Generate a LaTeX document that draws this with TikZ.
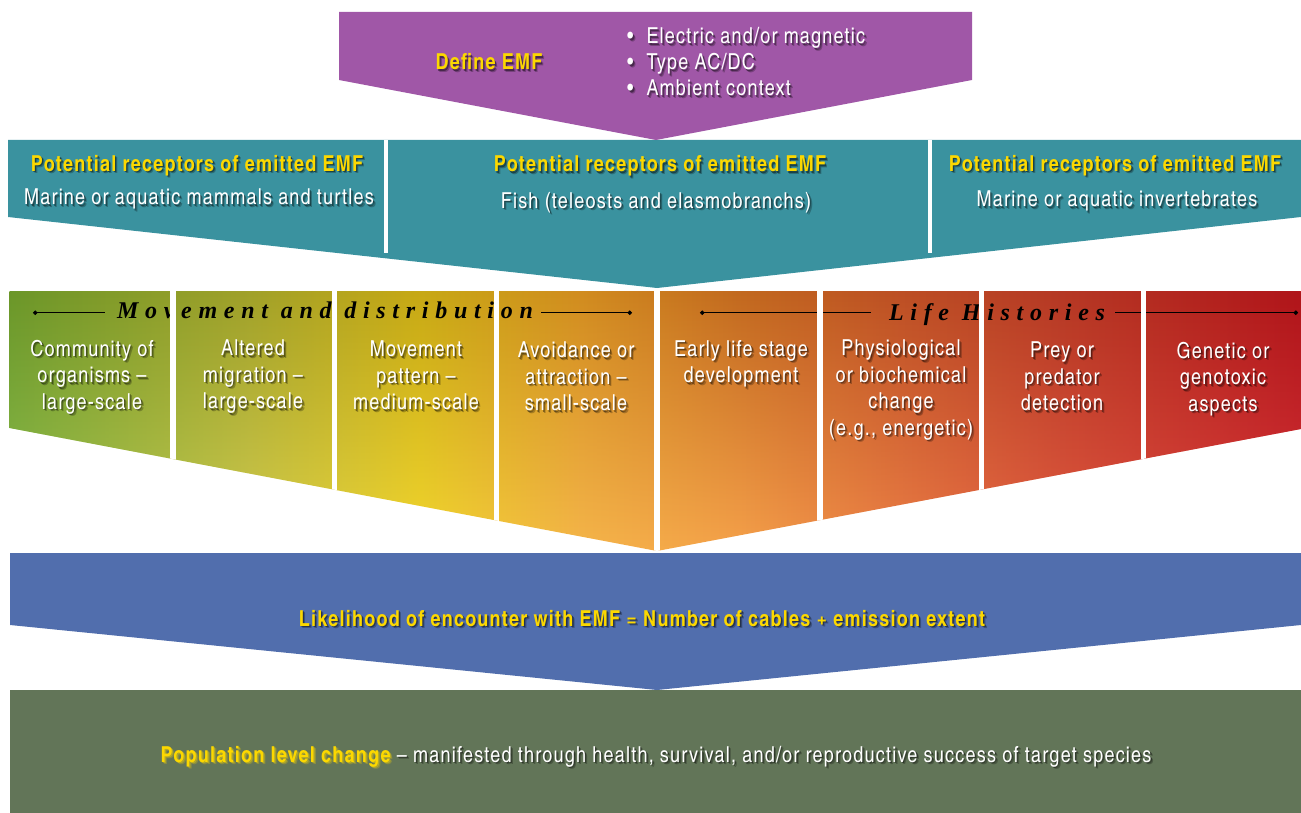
\documentclass[tikz,border=0pt]{standalone}
\usepackage{fontspec}
\setmainfont{texgyreheroscn}[Extension=.otf,UprightFont=*-regular,BoldFont=*-bold,ItalicFont=*-italic,BoldItalicFont=*-bolditalic,LetterSpace=5.5]
\newfontfamily\headfont{Liberation Serif}[LetterSpace=28]
\usetikzlibrary{positioning,calc,fadings,arrows.meta}

\definecolor{emfpurple}{RGB}{160,87,167}
\definecolor{emfteal}{RGB}{58,146,159}
\definecolor{emfblue}{RGB}{81,110,173}
\definecolor{emfgreen}{RGB}{98,117,88}
\definecolor{emfyellow}{RGB}{252,216,0}

% colours of the effect band, lower and upper edge
\pgfdeclarehorizontalshading{bandlow}{100bp}{rgb(0bp)=(0.55,0.75,0.31); rgb(25bp)=(0.55,0.75,0.31); rgb(34.3bp)=(0.82,0.80,0.31); rgb(40.9bp)=(0.95,0.84,0.18); rgb(47.1bp)=(0.96,0.71,0.29); rgb(53.3bp)=(0.96,0.63,0.29); rgb(59.5bp)=(0.92,0.49,0.27); rgb(65.7bp)=(0.88,0.35,0.25); rgb(75bp)=(0.84,0.20,0.22); rgb(100bp)=(0.84,0.20,0.22)}
\pgfdeclarehorizontalshading{bandhigh}{100bp}{rgb(0bp)=(0.42,0.59,0.16); rgb(25bp)=(0.42,0.59,0.16); rgb(34.3bp)=(0.63,0.63,0.16); rgb(40.9bp)=(0.78,0.66,0.08); rgb(47.1bp)=(0.82,0.55,0.12); rgb(53.3bp)=(0.76,0.41,0.12); rgb(59.5bp)=(0.74,0.31,0.14); rgb(65.7bp)=(0.71,0.22,0.14); rgb(75bp)=(0.69,0.08,0.10); rgb(100bp)=(0.69,0.08,0.10)}
\tikzfading[name=fadedown, top color=transparent!0, bottom color=transparent!100]

\tikzset{
  emfhead/.style={text=emfyellow, inner sep=0pt, font=\bfseries\fontsize{22}{26}\selectfont},
  emfbody/.style={text=white, inner sep=0pt, font=\fontsize{22}{26}\selectfont},
  cellbox/.style={text=white, inner sep=0pt, align=center, anchor=north, font=\fontsize{22}{26.5}\selectfont},
  bandtitle/.style={inner sep=0pt, anchor=base, font=\headfont\bfseries\itshape\fontsize{24}{28}\selectfont},
  headrule/.style={line width=0.9pt, {Circle[length=4.5pt]}-},
  gapbar/.style={fill=white}
}

% text with a soft dark shadow
\newcommand\shnode[4]{%
  \node[#3, text=black, text opacity=0.25] at ($(#2)+(2.4,2.4)$) {#4};
  \node[#3, text=black, text opacity=0.4] at ($(#2)+(1.3,1.3)$) {#4};
  \node[#3] (#1) at (#2) {#4};
}

\begin{document}
\begin{tikzpicture}[x=1pt,y=-1pt]
\useasboundingbox (0,0) rectangle (1301,813);

% population box and likelihood arrow
\fill[emfgreen] (10,690) rectangle (1301,813);
\fill[emfblue] (10,553) -- (1301,553) -- (1301,625) -- (657,690) -- (10,625) -- cycle;

% effect band
\begin{scope}
  \clip (9.5,291) -- (1301,291) -- (1301,429) -- (657,551) -- (9.5,428) -- cycle;
  \shade[shading=bandlow] (9.5,291) rectangle (1301,551);
  \shade[shading=bandhigh, path fading=fadedown] (9.5,291) rectangle (1301,551);
  \node[bandtitle] (mvtitle) at (325,318) {Movement and distribution};
  \node[bandtitle] (lhtitle) at (997,320) {Life Histories};
  \coordinate (mvL) at (33,312.7);
  \coordinate (mvR) at (632,312.7);
  \coordinate (lhL) at (700,312.7);
  \coordinate (lhR) at (1298,312.7);
  \draw[headrule] (mvL) -- ([xshift=-12pt]mvtitle.west |- mvL);
  \draw[headrule] (mvR) -- ([xshift=8pt]mvtitle.east |- mvR);
  \draw[headrule] (lhL) -- ([xshift=-18pt]lhtitle.west |- lhL);
  \draw[headrule] (lhR) -- ([xshift=10pt]lhtitle.east |- lhR);
  \foreach \gx in {173,334.5,496.5,657,820,981.5,1143.5}
    \fill[gapbar] (\gx-2.75,280) rectangle (\gx+2.75,560);
\end{scope}

% receptors
\fill[emfteal] (8,140) -- (1301,140) -- (1301,217) -- (657,288) -- (8,217) -- cycle;
\fill[gapbar] (384,140) rectangle (388,253);
\fill[gapbar] (927.5,140) rectangle (931.5,253);

% define EMF
\fill[emfpurple] (339,12) -- (972,12) -- (972,80) -- (656,140) -- (339,80) -- cycle;

\shnode{define}{489,70}{emfhead, anchor=base}{Define EMF}
\shnode{elec}{627,44}{emfbody, anchor=base west}{\textbullet\hspace{13pt}Electric and/or magnetic}
\shnode{acdc}{627,70}{emfbody, anchor=base west}{\textbullet\hspace{13pt}Type AC/DC}
\shnode{ambient}{627,96}{emfbody, anchor=base west}{\textbullet\hspace{13pt}Ambient context}

\shnode{recA}{197,171.5}{emfhead, anchor=base}{Potential receptors of emitted EMF}
\shnode{mammals}{199,205}{emfbody, anchor=base}{Marine or aquatic mammals and turtles}
\shnode{recB}{660,172}{emfhead, anchor=base}{Potential receptors of emitted EMF}
\shnode{fish}{656,208}{emfbody, anchor=base}{Fish (teleosts and elasmobranchs)}
\shnode{recC}{1115,171.5}{emfhead, anchor=base}{Potential receptors of emitted EMF}
\shnode{invert}{1117,207}{emfbody, anchor=base}{Marine or aquatic invertebrates}

\shnode{community}{92,340}{cellbox}{Community of\\organisms --\\large-scale}
\shnode{migration}{253,340}{cellbox}{Altered\\migration --\\large-scale}
\shnode{pattern}{416,341}{cellbox}{Movement\\pattern --\\medium-scale}
\shnode{avoid}{576,342}{cellbox}{Avoidance or\\attraction --\\small-scale}
\shnode{early}{741,340}{cellbox}{Early life stage\\development}
\shnode{physio}{901,340}{cellbox}{Physiological\\or biochemical\\change\\(e.g., energetic)}
\shnode{prey}{1062,342}{cellbox}{Prey or\\predator\\detection}
\shnode{genetic}{1223,342}{cellbox}{Genetic or\\genotoxic\\aspects}

\shnode{likely}{642,626}{emfhead, anchor=base}{Likelihood of encounter with EMF = Number of cables + emission extent}
\shnode{population}{656,762}{emfbody, anchor=base}{\textbf{\textcolor{emfyellow}{Population level change}} -- manifested through health, survival, and/or reproductive success of target species}
\end{tikzpicture}
\end{document}
